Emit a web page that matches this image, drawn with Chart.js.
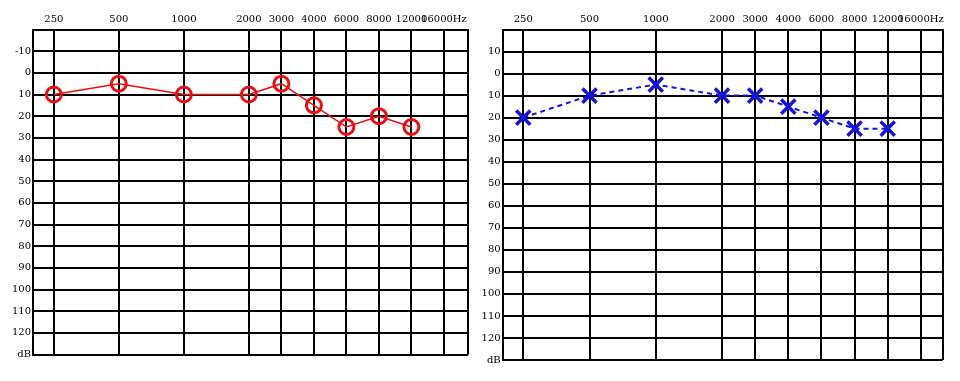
<!DOCTYPE html>
<html>
<head>
<meta charset="utf-8">
<script src="https://cdn.jsdelivr.net/npm/chart.js@4"></script>
<style>
  html, body { margin: 0; padding: 0; background: #fff; }
  body { width: 960px; height: 381px; position: relative; overflow: hidden; }
  .panel { position: absolute; top: 0; width: 480px; height: 381px; }
  #p1 { left: 0; }
  #p2 { left: 480px; }
</style>
</head>
<body>
<div class="panel" id="p1"><canvas id="c1" width="480" height="381"></canvas></div>
<div class="panel" id="p2"><canvas id="c2" width="480" height="381"></canvas></div>
<script>
// Frequencies (Hz) and their audiogram axis slot (octaves above 250 Hz, inter-octaves half-way)
const freqLabels = ['250', '500', '1000', '2000', '3000', '4000', '6000', '8000', '12000', '16000Hz'];
const freqSlots  = [0, 1, 2, 3, 3.5, 4, 4.5, 5, 5.5, 6];

// Hearing levels (dB) per frequency (250 … 12000 Hz)
const leftEarDb  = [10, 5, 10, 10, 5, 15, 25, 20, 25];
const rightEarDb = [20, 10, 5, 10, 10, 15, 20, 25, 25];

// Level ticks and labels
const dbTicks       = [-20, -10, 0, 10, 20, 30, 40, 50, 60, 70, 80, 90, 100, 110, 120, 130];
const leftDbLabels  = ['', '-10', '0', '10', '20', '30', '40', '50', '60', '70', '80', '90', '100', '110', '120', 'dB'];
const rightDbLabels = ['', '10', '0', '10', '20', '30', '40', '50', '60', '70', '80', '90', '100', '110', '120', 'dB'];

Chart.defaults.font.family = "'DejaVu Serif', 'Liberation Serif', serif";
Chart.defaults.font.size = 10;
Chart.defaults.color = '#000';

function makeChart(canvasId, values, dbLabels, style, geom) {
  const data = values.map((v, i) => ({ x: freqSlots[i], y: v }));
  return new Chart(document.getElementById(canvasId), {
    type: 'line',
    data: {
      datasets: [{
        data: data,
        borderColor: style.color,
        borderWidth: style.lineWidth,
        borderDash: style.dash,
        pointStyle: style.pointStyle,
        pointRadius: style.pointRadius,
        pointBorderWidth: style.pointBorderWidth,
        pointBorderColor: style.color,
        pointBackgroundColor: 'rgba(0,0,0,0)',
        fill: false,
        tension: 0
      }]
    },
    options: {
      responsive: false,
      animation: false,
      events: [],
      layout: { padding: { left: 0, top: 0, right: geom.padRight, bottom: geom.padBottom } },
      plugins: { legend: { display: false }, tooltip: { enabled: false } },
      scales: {
        x: {
          type: 'linear',
          position: 'top',
          min: geom.xMin,
          max: geom.xMax,
          afterBuildTicks: (scale) => {
            scale.ticks = [{ value: geom.xMin }]
              .concat(freqSlots.map(v => ({ value: v })))
              .concat([{ value: geom.xMax }]);
          },
          afterFit: (scale) => { scale.height = geom.xAxisHeight; },
          ticks: {
            autoSkip: false,
            maxRotation: 0,
            padding: 4,
            callback: (value) => {
              const i = freqSlots.indexOf(value);
              return i >= 0 ? freqLabels[i] : '';
            }
          },
          grid: { color: '#000', lineWidth: 2, drawTicks: false },
          border: { color: '#000', width: 2 }
        },
        y: {
          type: 'linear',
          reverse: true,
          min: -20,
          max: 130,
          afterBuildTicks: (scale) => { scale.ticks = dbTicks.map(v => ({ value: v })); },
          afterFit: (scale) => { scale.width = geom.yAxisWidth; },
          ticks: {
            autoSkip: false,
            padding: 2,
            callback: (value) => {
              const i = dbTicks.indexOf(value);
              return i >= 0 ? dbLabels[i] : '';
            }
          },
          grid: { color: '#000', lineWidth: 2, drawTicks: false },
          border: { color: '#000', width: 2 }
        }
      }
    }
  });
}

makeChart('c1', leftEarDb, leftDbLabels, {
  color: 'rgb(232,16,16)', lineWidth: 1.5, dash: [],
  pointStyle: 'circle', pointRadius: 7.5, pointBorderWidth: 3
}, { xMin: -0.32, xMax: 6.37, padRight: 12, padBottom: 26.5, xAxisHeight: 29.5, yAxisWidth: 33 });

makeChart('c2', rightEarDb, rightDbLabels, {
  color: 'rgb(20,20,220)', lineWidth: 2, dash: [5, 4],
  pointStyle: 'crossRot', pointRadius: 10, pointBorderWidth: 3.5
}, { xMin: -0.31, xMax: 6.33, padRight: 17.3, padBottom: 21, xAxisHeight: 29.5, yAxisWidth: 22.7 });
</script>
</body>
</html>
